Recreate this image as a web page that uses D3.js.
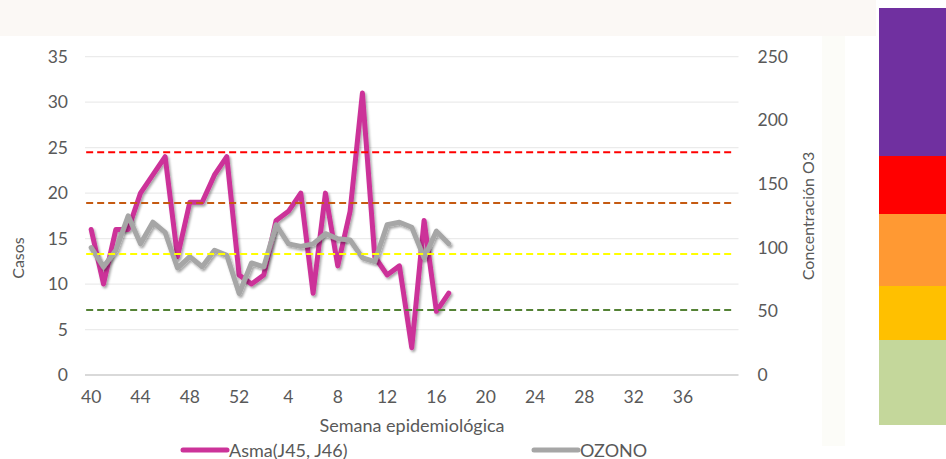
<!DOCTYPE html>
<html>
<head>
<meta charset="utf-8">
<script src="https://cdn.jsdelivr.net/npm/d3@7"></script>
<style>
  html, body { margin: 0; padding: 0; background: #ffffff; }
  svg { display: block; }
  text { font-family: Lato, "Open Sans", sans-serif; fill: #595959; }
</style>
</head>
<body>
<svg id="chart" width="946" height="459"></svg>
<script>
// ---------- DATA ----------
const weeks = ["40","41","42","43","44","45","46","47","48","49","50","51","52",
  "1","2","3","4","5","6","7","8","9","10","11","12","13","14","15","16","17","18","19","20",
  "21","22","23","24","25","26","27","28","29","30","31","32","33","34","35","36","37","38","39","40b"];
const tickWeeks = ["40","44","48","52","4","8","12","16","20","24","28","32","36"];
const asma = [16,10,16,16,20,22,24,13,19,19,22,24,11,
  10,11,17,18,20,9,20,12,18,31,13,11,12,3,17,7,9];
const ozono = [100,85,98,125,103,120,112,84,93,85,98,94,64,
  88,85,118,103,101,103,111,107,106,92,89,118,120,116,92,113,103];
const leftTicks = [0,5,10,15,20,25,30,35];
const rightTicks = [0,50,100,150,200,250];
const thresholds = [51, 95, 135, 175];
const thresholdColors = ["#548235", "#FFFF00", "#C55A11", "#FF0000"];
const bandColors = ["#C4D79B", "#FFC000", "#FF9933", "#FF0000", "#7030A0"];
const bandSizes = [85, 54, 72, 58, 148];
const seriesNames = ["Asma(J45, J46)", "OZONO"];
const seriesColors = ["#CC3399", "#A6A6A6"];

// ---------- LAYOUT ----------
const svg = d3.select("#chart");
const plot = {left: 85, right: 738.5, top: 56.7, bottom: 375};

// faint background tones
svg.append("rect").attr("x",0).attr("y",0).attr("width",876).attr("height",36).attr("fill","#FBF8F5");
svg.append("rect").attr("x",822).attr("y",36).attr("width",23).attr("height",410).attr("fill","#FCFCF8");

const x = d3.scaleBand().domain(weeks).range([plot.left, plot.right]).paddingInner(0).paddingOuter(0);
const cx = w => x(w) + x.bandwidth()/2;
const yL = d3.scaleLinear().domain([0,35]).range([plot.bottom, plot.top]);
const yR = d3.scaleLinear().domain([0,250]).range([plot.bottom, plot.top]);

// gridlines
svg.append("g").selectAll("line").data(leftTicks.filter(d=>d>0)).join("line")
  .attr("x1", plot.left).attr("x2", plot.right)
  .attr("y1", d=>yL(d)).attr("y2", d=>yL(d))
  .attr("stroke","#EBEBEB").attr("stroke-width",1.2);
// baseline
svg.append("line").attr("x1",plot.left).attr("x2",plot.right)
  .attr("y1",yL(0)).attr("y2",yL(0)).attr("stroke","#D9D9D9").attr("stroke-width",2);

const tickFont = "17.5px";
// left axis
const gL = svg.append("g").attr("transform",`translate(${plot.left},0)`)
  .call(d3.axisLeft(yL).tickValues(leftTicks).tickSize(0).tickPadding(17));
gL.select(".domain").remove();
gL.selectAll("text").style("font-size",tickFont).attr("fill","#595959").style("font-family","Lato, sans-serif");

// right axis
const gR = svg.append("g").attr("transform",`translate(${plot.right},0)`)
  .call(d3.axisRight(yR).tickValues(rightTicks).tickSize(0).tickPadding(19));
gR.select(".domain").remove();
gR.selectAll("text").style("font-size",tickFont).attr("fill","#595959").style("font-family","Lato, sans-serif");

// bottom axis
const gB = svg.append("g").attr("transform",`translate(0,${plot.bottom})`)
  .call(d3.axisBottom(x).tickValues(tickWeeks).tickSize(0).tickPadding(16));
gB.select(".domain").remove();
gB.selectAll("text").style("font-size",tickFont).attr("fill","#595959").style("font-family","Lato, sans-serif");

// axis titles
svg.append("text").attr("transform","translate(24,258) rotate(-90)")
  .attr("text-anchor","middle").style("font-size","16px").text("Casos");
svg.append("text").attr("transform","translate(814,216) rotate(-90)")
  .attr("text-anchor","middle").style("font-size","16px").text("Concentración O3");
svg.append("text").attr("x",412).attr("y",432).attr("text-anchor","middle")
  .style("font-size","18px").text("Semana epidemiológica");

// shadow filter
const defs = svg.append("defs");
const f = defs.append("filter").attr("id","shadow").attr("x","-10%").attr("y","-10%").attr("width","130%").attr("height","130%");
f.append("feDropShadow").attr("dx",1.5).attr("dy",2).attr("stdDeviation",1.3)
  .attr("flood-color","#000").attr("flood-opacity",0.35);

// series lines
const lineL = d3.line().x((d,i)=>cx(weeks[i])).y(d=>yL(d));
const lineR = d3.line().x((d,i)=>cx(weeks[i])).y(d=>yR(d));
svg.append("path").datum(asma).attr("d",lineL).attr("fill","none")
  .attr("stroke",seriesColors[0]).attr("stroke-width",5).attr("stroke-linejoin","round")
  .attr("stroke-linecap","round").attr("filter","url(#shadow)");
svg.append("path").datum(ozono).attr("d",lineR).attr("fill","none")
  .attr("stroke",seriesColors[1]).attr("stroke-width",5).attr("stroke-linejoin","round")
  .attr("stroke-linecap","round").attr("filter","url(#shadow)");

// threshold dashed lines
svg.append("g").selectAll("line").data(thresholds).join("line")
  .attr("x1", cx(weeks[0]) - 5).attr("x2", cx(weeks[weeks.length-1]))
  .attr("y1", d=>yR(d)).attr("y2", d=>yR(d))
  .attr("stroke",(d,i)=>thresholdColors[i]).attr("stroke-width",2)
  .attr("stroke-dasharray","7,4");

// legend
const legendX = [183, 534];
seriesNames.forEach((name,i)=>{
  svg.append("line").attr("x1",legendX[i]).attr("x2",legendX[i]+44)
    .attr("y1",450).attr("y2",450).attr("stroke",seriesColors[i])
    .attr("stroke-width",5).attr("stroke-linecap","round");
  svg.append("text").attr("x",legendX[i]+46).attr("y",456.5)
    .style("font-size","18px").text(name);
});

// colour band on the right
const total = d3.sum(bandSizes);
const yb = d3.scaleLinear().domain([0,total]).range([425,8]);
let acc = 0;
bandSizes.forEach((s,i)=>{
  svg.append("rect").attr("x",879).attr("width",67)
    .attr("y",yb(acc+s)).attr("height",yb(acc)-yb(acc+s)).attr("fill",bandColors[i]);
  acc += s;
});
</script>
</body>
</html>
